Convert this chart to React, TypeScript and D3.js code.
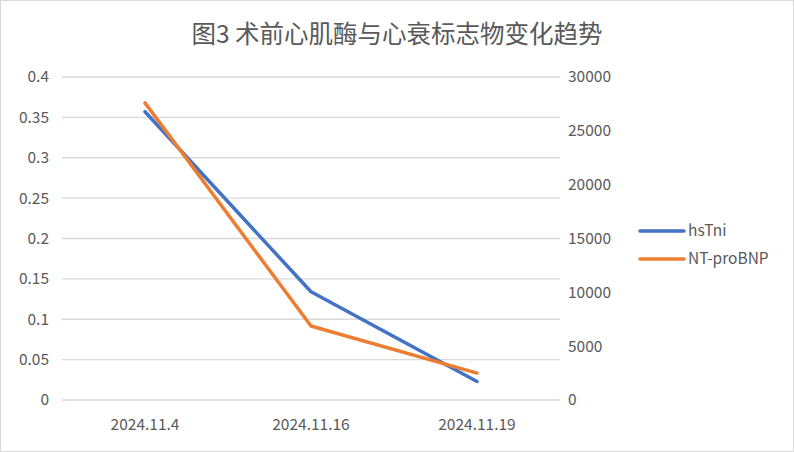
import * as d3 from "d3";

const categories = ["2024.11.4", "2024.11.16", "2024.11.19"];
const hsTni = [0.357, 0.134, 0.023];
const ntProBNP = [27600, 6870, 2500];
const leftTicks = [0, 0.05, 0.1, 0.15, 0.2, 0.25, 0.3, 0.35, 0.4];
const rightTicks = [0, 5000, 10000, 15000, 20000, 25000, 30000];
const seriesNames = ["hsTni", "NT-proBNP"];
const colors = ["#4472C4", "#ED7D31"];

export default function App() {
  const width = 794;
  const height = 452;
  const left = 62;
  const right = 560;
  const top = 77;
  const bottom = 400;
  const font = "'Noto Sans CJK SC', 'Noto Sans', sans-serif";
  const fs = 15.5;

  const x = d3.scaleBand<string>().domain(categories).range([left, right]);
  const yL = d3.scaleLinear().domain([0, 0.4]).range([bottom, top]);
  const yR = d3.scaleLinear().domain([0, 30000]).range([bottom, top]);
  const cx = (c: string) => (x(c) ?? 0) + x.bandwidth() / 2;

  const lineL = d3
    .line<number>()
    .x((_, i) => cx(categories[i]))
    .y((d) => yL(d));
  const lineR = d3
    .line<number>()
    .x((_, i) => cx(categories[i]))
    .y((d) => yR(d));

  return (
    <div style={{ position: "fixed", left: 0, top: 0 }}>
      <svg width={width} height={height} style={{ display: "block" }}>
        <rect x={0.5} y={0.5} width={width - 1} height={height - 1} fill="#fff" stroke="#d9d9d9" />
        <text x={397} y={43} textAnchor="middle" fontSize={24.5} fill="#595959" fontFamily={font}>
          图3 术前心肌酶与心衰标志物变化趋势
        </text>
        {leftTicks.map((t) => (
          <g key={"l" + t}>
            <line x1={left} x2={right} y1={yL(t)} y2={yL(t)} stroke="#d9d9d9" strokeWidth={1.3} />
            <text x={49} y={yL(t)} dy="0.35em" textAnchor="end" fontSize={fs} fill="#595959" fontFamily={font}>
              {t}
            </text>
          </g>
        ))}
        {rightTicks.map((t) => (
          <text key={"r" + t} x={568} y={yR(t)} dy="0.35em" textAnchor="start" fontSize={fs} fill="#595959" fontFamily={font}>
            {t}
          </text>
        ))}
        {categories.map((c) => (
          <text key={c} x={cx(c)} y={425} dy="0.35em" textAnchor="middle" fontSize={fs} fill="#595959" fontFamily={font}>
            {c}
          </text>
        ))}
        <path d={lineL(hsTni) ?? ""} fill="none" stroke={colors[0]} strokeWidth={3.5} strokeLinecap="round" strokeLinejoin="round" />
        <path d={lineR(ntProBNP) ?? ""} fill="none" stroke={colors[1]} strokeWidth={3.5} strokeLinecap="round" strokeLinejoin="round" />
        {seriesNames.map((s, i) => (
          <g key={s} transform={`translate(640, ${231 + i * 28})`}>
            <line x1={0} x2={44} y1={0} y2={0} stroke={colors[i]} strokeWidth={3.5} strokeLinecap="round" />
            <text x={48} y={0} dy="0.35em" fontSize={fs} fill="#595959" fontFamily={font}>
              {s}
            </text>
          </g>
        ))}
      </svg>
    </div>
  );
}
